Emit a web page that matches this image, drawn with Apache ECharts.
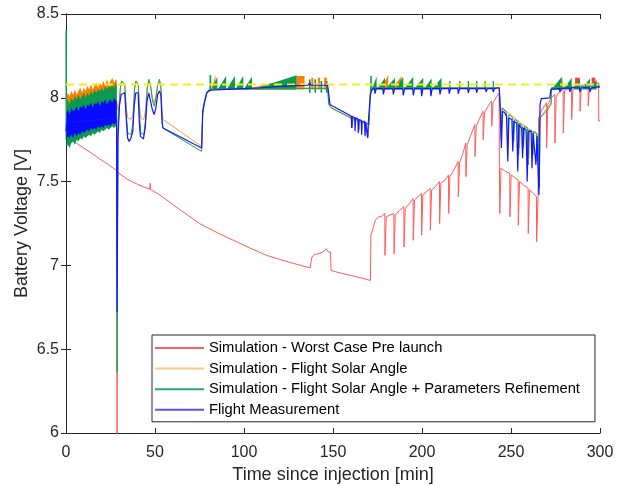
<!DOCTYPE html>
<html>
<head>
<meta charset="utf-8">
<script src="https://cdn.jsdelivr.net/npm/echarts@6/dist/echarts.min.js"></script>
<style>
  html, body { margin: 0; padding: 0; background: #fff; }
  #chart { width: 619px; height: 486px; }
</style>
</head>
<body>
<div id="chart"></div>
<script>
// axis ticks
var timeTicks = [0, 50, 100, 150, 200, 250, 300];
var voltTicks = [6, 6.5, 7, 7.5, 8, 8.5];
var limitVolt = 8.08;

var seriesNames = [
  'Simulation - Worst Case Pre launch',
  'Simulation - Flight Solar Angle',
  'Simulation - Flight Solar Angle + Parameters Refinement',
  'Flight Measurement'
];

// noisy part right after injection (0 - 28.5 min), envelopes
var bandTime = [0.3, 1, 2, 3, 4, 5, 6, 7, 8, 9, 10, 11, 12, 13, 14, 15, 16, 17, 18, 19, 20, 21, 22, 23, 24, 25, 26, 27, 28, 28.5];
var orangeHigh = [8.00, 8.03, 8.01, 8.04, 8.02, 8.05, 8.02, 8.04, 8.06, 8.03, 8.06, 8.04, 8.07, 8.05, 8.08, 8.05, 8.07, 8.09, 8.06, 8.09, 8.07, 8.10, 8.07, 8.11, 8.08, 8.10, 8.12, 8.09, 8.11, 8.10];
var orangeLow = [7.86, 7.86, 7.87, 7.87, 7.88, 7.88, 7.89, 7.89, 7.90, 7.90, 7.90, 7.91, 7.91, 7.91, 7.92, 7.92, 7.92, 7.93, 7.93, 7.93, 7.94, 7.94, 7.94, 7.95, 7.95, 7.95, 7.95, 7.96, 7.96, 7.96];
var greenHigh = [7.97, 7.99, 7.96, 8.00, 7.98, 8.01, 7.99, 8.02, 7.99, 8.01, 8.03, 8.00, 8.03, 8.01, 8.04, 8.02, 8.05, 8.03, 8.05, 8.04, 8.06, 8.04, 8.07, 8.05, 8.07, 8.06, 8.08, 8.06, 8.09, 8.07];
var greenLow = [7.71, 7.72, 7.70, 7.73, 7.74, 7.72, 7.75, 7.74, 7.76, 7.75, 7.77, 7.76, 7.77, 7.78, 7.77, 7.79, 7.78, 7.79, 7.80, 7.79, 7.81, 7.80, 7.81, 7.82, 7.81, 7.82, 7.83, 7.82, 7.83, 7.84];
var blueHigh = [7.91, 7.93, 7.90, 7.94, 7.92, 7.93, 7.95, 7.92, 7.95, 7.94, 7.96, 7.93, 7.96, 7.95, 7.97, 7.94, 7.97, 7.96, 7.98, 7.95, 7.98, 7.97, 7.99, 7.96, 7.98, 7.99, 7.97, 8.00, 7.98, 7.99];
var blueLow = [7.75, 7.77, 7.76, 7.78, 7.76, 7.79, 7.77, 7.79, 7.78, 7.80, 7.79, 7.80, 7.81, 7.80, 7.82, 7.81, 7.82, 7.81, 7.83, 7.82, 7.83, 7.82, 7.84, 7.83, 7.84, 7.83, 7.85, 7.84, 7.85, 7.86];

// charging saw teeth: [start, end, base, top, kind]  kind 0 = ramp, 1 = block
var redTeeth = [
  [286.0, 288.6, 8.07, 8.12, 1], [295.3, 297.3, 8.07, 8.12, 1]
];
var orangeTeeth = [
  [81.5, 84.0, 8.05, 8.135, 0], [100.0, 129.0, 8.05, 8.12, 0], [129.6, 134.0, 8.05, 8.13, 1],
  [137.8, 139.0, 8.05, 8.12, 1], [141.5, 142.8, 8.05, 8.12, 1], [145.0, 146.5, 8.05, 8.12, 1],
  [176.5, 181.0, 8.05, 8.135, 0], [183.0, 188.5, 8.05, 8.13, 0], [276.0, 279.0, 8.05, 8.12, 0]
];
var greenTeeth = [
  [80.6, 81.6, 8.04, 8.135, 1], [82.0, 85.0, 8.05, 8.125, 0], [85.2, 90.0, 8.05, 8.13, 0],
  [90.2, 94.9, 8.05, 8.13, 0], [95.1, 99.6, 8.05, 8.13, 0], [99.8, 104.5, 8.05, 8.125, 0],
  [104.8, 129.6, 8.05, 8.135, 0], [136.5, 137.4, 8.03, 8.11, 1], [139.6, 140.5, 8.03, 8.11, 1],
  [143.0, 143.9, 8.03, 8.10, 1], [146.0, 146.9, 8.03, 8.10, 1],
  [170.9, 171.8, 8.04, 8.13, 1], [171.8, 174.5, 8.05, 8.125, 0], [174.7, 179.2, 8.05, 8.12, 0],
  [179.4, 184.8, 8.05, 8.12, 0], [185.0, 189.5, 8.05, 8.125, 0], [189.7, 195.1, 8.05, 8.125, 0],
  [195.3, 200.7, 8.05, 8.12, 0], [200.9, 205.4, 8.05, 8.115, 0], [205.6, 211.0, 8.05, 8.12, 0],
  [215.3, 216.0, 8.05, 8.10, 1], [220.9, 221.6, 8.05, 8.10, 1], [225.7, 226.4, 8.05, 8.10, 1],
  [230.4, 231.1, 8.05, 8.10, 1], [235.1, 235.8, 8.05, 8.10, 1], [239.7, 240.4, 8.05, 8.10, 1],
  [272.8, 278.5, 8.05, 8.125, 0], [279.4, 284.1, 8.05, 8.12, 0], [285.0, 288.8, 8.05, 8.115, 0],
  [289.7, 294.4, 8.05, 8.115, 0], [294.6, 298.1, 8.05, 8.11, 0]
];

// [time min, voltage V]
var redLine = [
  [0, 7.77], [5, 7.735], [10, 7.70], [15, 7.665], [19, 7.635], [24, 7.60], [28.5, 7.565], [28.7, 5.9], [29.0, 7.555],
  [35, 7.51], [41, 7.48], [47, 7.455], [47.3, 7.49], [47.6, 7.452], [52, 7.425], [56.6, 7.39], [65, 7.325], [75, 7.25],
  [85, 7.195], [94, 7.15], [103, 7.105], [112.7, 7.06], [125, 7.02], [137.1, 6.985], [138.2, 7.05], [139.5, 7.065],
  [142, 7.07], [144.5, 7.08], [146.2, 7.10], [147.4, 7.08], [148.6, 7.08], [148.9, 6.97], [154, 6.955], [160, 6.94],
  [166, 6.925], [171, 6.91], [171.3, 7.18], [172.5, 7.22], [173.8, 7.27], [175.5, 7.29], [177, 7.29], [179.1, 7.31],
  [179.2, 7.06], [179.8, 7.07], [179.9, 7.29], [182, 7.30], [184.2, 7.31], [184.3, 7.07], [184.9, 7.08], [185.0, 7.30],
  [187.5, 7.33], [189.8, 7.35], [189.9, 7.11], [190.5, 7.12], [190.6, 7.34], [193, 7.37], [195.0, 7.40], [195.1, 7.15],
  [195.7, 7.16], [195.8, 7.39], [197.8, 7.41], [199.7, 7.43], [199.8, 7.18], [200.4, 7.19], [200.5, 7.42], [202.5, 7.44],
  [204.6, 7.46], [204.7, 7.21], [205.3, 7.22], [205.4, 7.45], [207.5, 7.47], [209.8, 7.50], [209.9, 7.25], [210.5, 7.26],
  [210.6, 7.49], [213, 7.51], [214.9, 7.54], [215.0, 7.31], [215.6, 7.32], [215.7, 7.53], [218, 7.57], [220.3, 7.62],
  [220.4, 7.41], [221.0, 7.42], [221.1, 7.61], [223, 7.67], [224.6, 7.73], [224.7, 7.53], [225.3, 7.54], [225.4, 7.72],
  [227.5, 7.78], [229.7, 7.84], [229.8, 7.65], [230.4, 7.66], [230.5, 7.83], [232.5, 7.88], [234.3, 7.92], [234.4, 7.75],
  [235.0, 7.76], [235.1, 7.91], [237, 7.95], [239.1, 7.98], [239.2, 7.83], [239.8, 7.84], [239.9, 7.97], [241.5, 8.00],
  [243.3, 8.03], [243.5, 7.59], [243.7, 7.31], [244.2, 7.32], [244.4, 7.58], [247, 7.56], [249.3, 7.55], [249.4, 7.29],
  [250.0, 7.30], [250.1, 7.54], [252, 7.525], [254.0, 7.51], [254.1, 7.24], [254.7, 7.25], [254.8, 7.50], [257, 7.48],
  [259.6, 7.46], [259.7, 7.19], [260.3, 7.20], [260.4, 7.45], [262.5, 7.43], [264.3, 7.41], [264.4, 7.14], [265.0, 7.15],
  [265.2, 7.40], [265.5, 7.88], [267, 7.92], [269.9, 7.97], [270.0, 7.70], [270.6, 7.71], [270.7, 7.96], [272.5, 8.00],
  [274.6, 8.02], [274.7, 7.73], [275.3, 7.74], [275.4, 8.01], [277.5, 8.04], [279.3, 8.05], [279.4, 7.79], [280.0, 7.80],
  [280.1, 8.04], [282, 8.06], [284.0, 8.07], [284.1, 7.87], [284.7, 7.88], [284.8, 8.06], [286.8, 8.07], [288.7, 8.08],
  [288.8, 7.92], [289.4, 7.93], [289.5, 8.07], [291.5, 8.08], [293.3, 8.08], [293.4, 7.95], [294.0, 7.96], [294.1, 8.07],
  [296, 8.08], [299.2, 8.09], [299.3, 7.86], [300, 7.87]
];
var orangeLine = [
  [0, 7.90], [28.5, 7.98], [29.5, 7.92], [30.5, 8.06], [31.3, 8.10], [33, 8.08], [34, 7.93], [34.7, 7.88], [36.5, 7.87],
  [37.6, 7.90], [38.5, 8.06], [39.3, 8.10], [40.6, 8.08], [41.3, 7.95], [42, 7.88], [43.7, 7.87], [44.6, 7.92], [45.6, 8.06],
  [46.5, 8.10], [47.5, 8.07], [48.6, 8.00], [49.6, 7.97], [50.6, 8.02], [51.6, 8.08], [52.5, 8.10], [53.3, 8.07], [54, 7.93],
  [54.6, 7.87], [76.2, 7.71], [76.8, 7.92], [78, 7.99], [79.5, 8.04], [81, 8.055], [147, 8.06], [147.6, 7.97], [149, 7.94],
  [158.5, 7.885], [160.5, 7.875], [160.8, 7.82], [161.1, 7.87], [164.2, 7.86], [164.5, 7.80], [164.8, 7.855], [168, 7.845],
  [168.3, 7.79], [168.6, 7.84], [169.5, 7.835], [169.8, 7.77], [170.1, 7.83], [170.8, 7.83], [171.1, 8.06], [243.4, 8.06],
  [243.8, 7.95], [244.5, 7.78], [245.1, 7.94], [254.3, 7.86], [254.8, 7.70], [255.3, 7.85], [259.6, 7.82], [260.0, 7.64],
  [260.5, 7.81], [265.9, 7.78], [266.2, 7.88], [272.5, 7.97], [272.8, 8.06], [300, 8.07]
];
var greenLine = [
  [0, 7.75], [0.05, 8.40], [0.3, 7.85], [28.5, 7.95], [28.7, 6.36], [29.1, 7.80], [30.5, 8.05], [31.2, 8.10], [33, 8.08],
  [34, 7.88], [34.7, 7.79], [36.5, 7.78], [37.6, 7.85], [38.5, 8.05], [39.3, 8.10], [40.6, 8.08], [41.3, 7.90], [42, 7.79],
  [43.7, 7.78], [44.6, 7.86], [45.6, 8.05], [46.5, 8.11], [47.5, 8.07], [48.6, 7.98], [49.6, 7.95], [50.6, 8.00], [51.6, 8.08],
  [52.5, 8.11], [53.3, 8.07], [53.8, 7.90], [54.3, 7.82], [76.2, 7.68], [76.8, 7.90], [78, 7.98], [79.5, 8.04], [81, 8.05],
  [120, 8.055], [147, 8.055], [147.6, 7.96], [149, 7.94], [158.5, 7.89], [160.5, 7.88], [160.8, 7.83], [161.2, 7.88],
  [164.2, 7.865], [164.5, 7.81], [164.9, 7.865], [168, 7.85], [168.3, 7.80], [168.7, 7.85], [170.3, 7.84], [170.8, 7.84],
  [171.1, 8.06], [243.4, 8.06], [243.9, 7.95], [244.5, 7.75], [245.1, 7.94], [247.5, 7.91], [248.2, 7.70], [248.8, 7.90],
  [251.0, 7.88], [251.5, 7.74], [252.1, 7.87], [253.8, 7.86], [254.3, 7.66], [254.9, 7.85], [256.5, 7.83], [257.0, 7.70],
  [257.6, 7.83], [259.1, 7.82], [259.6, 7.60], [260.2, 7.81], [261.8, 7.80], [262.3, 7.66], [262.9, 7.80], [264.2, 7.79],
  [264.7, 7.62], [265.2, 7.78], [265.9, 7.46], [266.3, 7.88], [268, 7.90], [270, 7.92], [272.5, 7.96], [272.8, 8.06], [300, 8.07]
];
var blueLine = [
  [0, 7.80], [0.3, 7.85], [28.4, 7.88], [28.7, 6.72], [29.2, 7.75], [30, 7.95], [31, 8.02], [33, 8.03], [34, 7.85],
  [34.6, 7.76], [35.5, 7.74], [36.5, 7.76], [37.5, 7.80], [38.3, 7.95], [39.2, 8.03], [40.5, 8.03], [41.2, 7.85], [41.8, 7.77],
  [43.5, 7.755], [44.5, 7.82], [45.5, 7.98], [46.5, 8.03], [47.3, 8.02], [48.5, 7.93], [49.5, 7.90], [50.5, 7.94], [51.5, 8.02],
  [52.5, 8.04], [53.3, 8.02], [54, 7.85], [54.5, 7.82], [76.2, 7.70], [76.8, 7.92], [77.5, 7.96], [79, 8.03], [81, 8.045],
  [90, 8.05], [100, 8.055], [110, 8.06], [122, 8.07], [136, 8.075], [137, 8.09], [137.5, 8.075], [147, 8.075], [148.3, 7.96],
  [150, 7.95], [158.6, 7.90], [160.3, 7.89], [160.5, 7.82], [160.8, 7.89], [162.2, 7.88], [162.4, 7.80], [162.7, 7.88],
  [164.0, 7.875], [164.2, 7.79], [164.5, 7.87], [165.9, 7.865], [166.1, 7.78], [166.4, 7.86], [167.8, 7.86], [168.0, 7.77],
  [168.3, 7.855], [169.3, 7.85], [169.5, 7.76], [169.8, 7.85], [170.7, 7.85], [171.0, 8.02], [172, 8.05], [173.3, 8.055],
  [173.6, 8.025], [174.0, 8.025], [174.3, 8.055], [178.0, 8.055], [178.3, 8.02], [178.7, 8.02], [179.0, 8.055], [183.6, 8.055],
  [183.9, 8.02], [184.3, 8.02], [184.6, 8.055], [189.2, 8.055], [189.5, 8.015], [189.9, 8.015], [190.2, 8.055], [194.8, 8.055],
  [195.1, 8.015], [195.5, 8.015], [195.8, 8.055], [199.5, 8.055], [199.8, 8.01], [200.2, 8.01], [200.5, 8.055], [204.7, 8.055],
  [205.0, 8.01], [205.4, 8.01], [205.7, 8.055], [209.8, 8.055], [210.1, 8.02], [210.5, 8.02], [210.8, 8.055], [215.0, 8.055],
  [215.3, 8.025], [215.7, 8.025], [216.0, 8.055], [220.1, 8.055], [220.4, 8.025], [220.8, 8.025], [221.1, 8.055], [225.7, 8.055],
  [226.0, 8.03], [226.4, 8.03], [226.7, 8.055], [230.4, 8.055], [230.7, 8.03], [231.1, 8.03], [231.4, 8.055], [235.7, 8.055],
  [236.0, 8.035], [236.4, 8.035], [236.7, 8.055], [239.7, 8.055], [240.0, 8.035], [240.4, 8.035], [240.7, 8.055], [243.4, 8.06],
  [243.5, 8.07], [244.0, 7.93], [244.6, 7.70], [245.2, 7.92], [246.5, 7.91], [247.5, 7.89], [248.2, 7.62], [248.8, 7.88],
  [250.5, 7.87], [251.0, 7.68], [251.6, 7.86], [253.2, 7.85], [253.8, 7.56], [254.4, 7.84], [256.0, 7.82], [256.5, 7.64],
  [257.1, 7.82], [258.5, 7.81], [259.1, 7.50], [259.7, 7.80], [261.3, 7.80], [261.8, 7.58], [262.4, 7.79], [263.5, 7.78],
  [264.0, 7.60], [264.6, 7.77], [265.3, 7.76], [265.7, 7.42], [266.0, 7.60], [266.3, 7.96], [267, 7.995], [271.8, 8.00],
  [272.4, 8.05], [277.2, 8.055], [277.5, 8.035], [277.9, 8.035], [278.2, 8.055], [282.8, 8.06], [283.1, 8.035], [283.5, 8.035],
  [283.8, 8.06], [288.5, 8.06], [288.8, 8.035], [289.2, 8.035], [289.5, 8.06], [294.1, 8.06], [294.4, 8.035], [294.8, 8.035],
  [295.1, 8.06], [300, 8.065]
];

var FONT = 'Liberation Sans, Arial, Helvetica, sans-serif';

function bandRenderer(lo, hi) {
  return function (params, api) {
    var pts = [];
    for (var i = 0; i < bandTime.length; i++) pts.push(api.coord([bandTime[i], hi[i]]));
    for (var j = bandTime.length - 1; j >= 0; j--) pts.push(api.coord([bandTime[j], lo[j]]));
    return { type: 'polygon', shape: { points: pts }, style: { fill: api.visual('color') } };
  };
}

function toothItem(params, api) {
  var t0 = api.value(0), t1 = api.value(1), b = api.value(2), top = api.value(3);
  var pts;
  if (api.value(4) === 1) {
    pts = [api.coord([t0, b]), api.coord([t0, top]), api.coord([t1, top]), api.coord([t1, b])];
  } else {
    pts = [api.coord([t0, b]), api.coord([t1, top]), api.coord([t1, b])];
  }
  return { type: 'polygon', shape: { points: pts }, style: { fill: api.visual('color') } };
}

function lineSeries(name, data, color, width, z) {
  return {
    name: name, type: 'line', data: data, showSymbol: false, symbol: 'none',
    lineStyle: { color: color, width: width }, itemStyle: { color: color },
    clip: true, z: z, silent: true
  };
}
function bandSeries(name, lo, hi, color, z) {
  return { name: name, type: 'custom', renderItem: bandRenderer(lo, hi), data: [[bandTime[0], lo[0]]], itemStyle: { color: color }, z: z, silent: true };
}
function teethSeries(name, data, color, z) {
  return { name: name, type: 'custom', renderItem: toothItem, data: data, encode: { x: [0, 1], y: [2, 3] }, itemStyle: { color: color }, z: z, silent: true };
}

var chart = echarts.init(document.getElementById('chart'));

var axisCommon = {
  axisLine: { show: true, lineStyle: { color: '#262626', width: 1 } },
  axisTick: { show: true, inside: true, length: 5, lineStyle: { color: '#262626' } },
  splitLine: { show: false }
};

var option = {
  animation: false,
  backgroundColor: '#fff',
  grid: { left: 66, right: 19, top: 14, bottom: 53, containLabel: false, outerBoundsMode: 'none' },
  xAxis: [
    Object.assign({
      type: 'value', position: 'bottom',
      min: timeTicks[0], max: timeTicks[timeTicks.length - 1], interval: timeTicks[1] - timeTicks[0],
      name: 'Time since injection [min]', nameLocation: 'middle', nameGap: 33, nameMoveOverlap: false,
      nameTextStyle: { fontFamily: FONT, fontSize: 18, color: '#262626' },
      axisLabel: { fontFamily: FONT, fontSize: 16, color: '#262626', margin: 12 }
    }, axisCommon),
    Object.assign({
      type: 'value', position: 'top',
      min: timeTicks[0], max: timeTicks[timeTicks.length - 1], interval: timeTicks[1] - timeTicks[0],
      axisLabel: { show: false }
    }, axisCommon)
  ],
  yAxis: [
    Object.assign({
      type: 'value', position: 'left',
      min: voltTicks[0], max: voltTicks[voltTicks.length - 1], interval: voltTicks[1] - voltTicks[0],
      name: 'Battery Voltage [V]', nameLocation: 'middle', nameGap: 35, nameMoveOverlap: false,
      nameTextStyle: { fontFamily: FONT, fontSize: 18, color: '#262626' },
      axisLabel: { fontFamily: FONT, fontSize: 16, color: '#262626', margin: 7 }
    }, axisCommon),
    Object.assign({
      type: 'value', position: 'right',
      min: voltTicks[0], max: voltTicks[voltTicks.length - 1], interval: voltTicks[1] - voltTicks[0],
      axisLabel: { show: false }
    }, axisCommon)
  ],
  legend: {
    orient: 'vertical', left: 152, top: 335,
    backgroundColor: '#fff', borderColor: '#262626', borderWidth: 1,
    padding: [5, 15, 4, 3],
    icon: 'rect', itemWidth: 49, itemHeight: 2, itemGap: 4.6,
    selectedMode: false,
    textStyle: { fontFamily: FONT, fontSize: 14.75, color: '#000', lineHeight: 16 },
    data: [
      { name: seriesNames[0], itemStyle: { color: '#ff5c5c' } },
      { name: seriesNames[1], itemStyle: { color: '#ffc58a' } },
      { name: seriesNames[2], itemStyle: { color: '#1fae62' } },
      { name: seriesNames[3], itemStyle: { color: '#5656ff' } }
    ]
  },
  series: [
    teethSeries('redTeeth', redTeeth, '#ff3b3b', 3),
    lineSeries(seriesNames[0], redLine, '#ff5a5a', 1, 3),
    bandSeries('orangeBand', orangeLow, orangeHigh, '#ff8000', 4),
    teethSeries('orangeTeeth', orangeTeeth, '#ff8000', 4),
    lineSeries(seriesNames[1], orangeLine, '#ff9a3c', 1, 4),
    bandSeries('greenBand', greenLow, greenHigh, '#0b9a4e', 5),
    teethSeries('greenTeeth', greenTeeth, '#0b9a4e', 5),
    lineSeries(seriesNames[2], greenLine, '#1aa35a', 1, 5),
    {
      name: 'limit', type: 'line', data: [[timeTicks[0], limitVolt], [timeTicks[timeTicks.length - 1], limitVolt]],
      symbol: 'none', lineStyle: { color: '#f5ec1c', width: 2, type: [8, 5] }, z: 6, silent: true
    },
    bandSeries('blueBand', blueLow, blueHigh, '#0a0aff', 7),
    lineSeries(seriesNames[3], blueLine, '#1414ff', 1.2, 7)
  ]
};

chart.setOption(option);
</script>
</body>
</html>
